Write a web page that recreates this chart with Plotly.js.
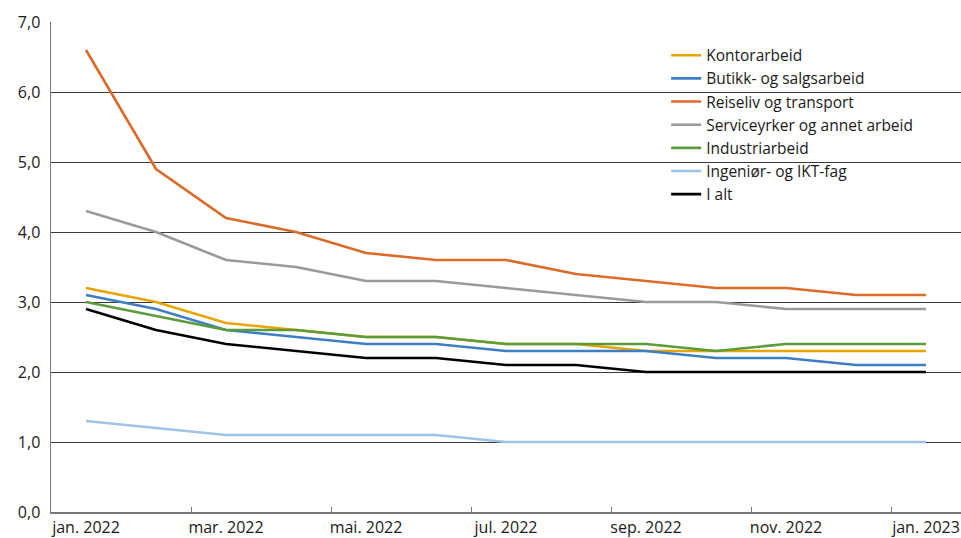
<!DOCTYPE html>
<html>
<head>
<meta charset="utf-8">
<script src="https://cdn.plot.ly/plotly-3.0.1.min.js"></script>
<style>html,body{margin:0;padding:0;background:#fff;}#chart{width:961px;height:538px;}</style>
</head>
<body>
<div id="chart"></div>
<script>
const months = ["jan. 2022","feb. 2022","mar. 2022","apr. 2022","mai. 2022","jun. 2022","jul. 2022","aug. 2022","sep. 2022","okt. 2022","nov. 2022","des. 2022","jan. 2023"];
const kontorarbeid = [3.2,3.0,2.7,2.6,2.5,2.5,2.4,2.4,2.3,2.3,2.3,2.3,2.3];
const butikk = [3.1,2.9,2.6,2.5,2.4,2.4,2.3,2.3,2.3,2.2,2.2,2.1,2.1];
const reiseliv = [6.6,4.9,4.2,4.0,3.7,3.6,3.6,3.4,3.3,3.2,3.2,3.1,3.1];
const service = [4.3,4.0,3.6,3.5,3.3,3.3,3.2,3.1,3.0,3.0,2.9,2.9,2.9];
const industri = [3.0,2.8,2.6,2.6,2.5,2.5,2.4,2.4,2.4,2.3,2.4,2.4,2.4];
const ingenior = [1.3,1.2,1.1,1.1,1.1,1.1,1.0,1.0,1.0,1.0,1.0,1.0,1.0];
const ialt = [2.9,2.6,2.4,2.3,2.2,2.2,2.1,2.1,2.0,2.0,2.0,2.0,2.0];
const seriesNames = ["Kontorarbeid","Butikk- og salgsarbeid","Reiseliv og transport","Serviceyrker og annet arbeid","Industriarbeid","Ingeniør- og IKT-fag","I alt"];
const seriesData = [kontorarbeid,butikk,reiseliv,service,industri,ingenior,ialt];
const colors = ["#e8a400","#3d7ec4","#dc6a28","#9a9a9a","#5b9b3a","#9fc3e8","#000000"];

const traces = seriesNames.map((n,i)=>({
  type:"scatter", mode:"lines", name:n, x:months, y:seriesData[i],
  line:{color:colors[i], width:2.6}, hoverinfo:"skip"
}));

const layout = {
  width:961, height:538,
  margin:{l:51, r:0, t:22, b:26},
  paper_bgcolor:"#fff", plot_bgcolor:"#fff",
  separators:",.",
  font:{family:"Open Sans, sans-serif", size:16, color:"#1a1a1a"},
  showlegend:true,
  legend:{x:0.676, y:0.966, xanchor:"left", yanchor:"top", bgcolor:"rgba(0,0,0,0)",
          font:{size:15.5, color:"#1a1a1a"}, tracegroupgap:0, itemwidth:30},
  xaxis:{type:"category", range:[-0.5,12.5], dtick:2, tick0:0, tickson:"boundaries",
         ticks:"inside", ticklen:5, tickcolor:"#777", tickwidth:1, tickangle:0,
         showline:true, linecolor:"#777", linewidth:1.5, showgrid:false, zeroline:false,
         tickfont:{size:16, color:"#1a1a1a"}, fixedrange:true},
  yaxis:{range:[0,7], dtick:1, tick0:0, tickformat:".1f",
         showgrid:true, gridcolor:"#3a3a3a", gridwidth:1,
         showline:true, linecolor:"#777", linewidth:1.5, zeroline:false,
         ticks:"", ticklabelstandoff:6, tickfont:{size:16, color:"#1a1a1a"}, fixedrange:true}
};
Plotly.newPlot("chart", traces, layout, {displayModeBar:false, staticPlot:true});
</script>
</body>
</html>
